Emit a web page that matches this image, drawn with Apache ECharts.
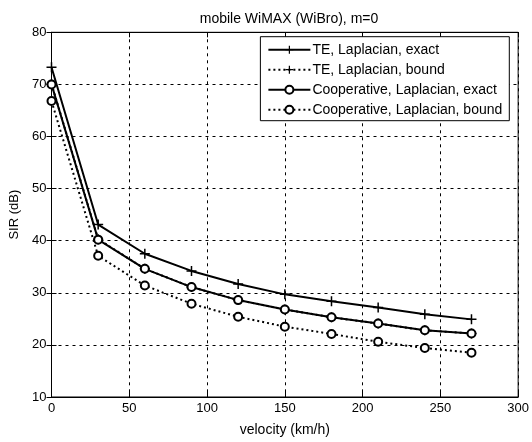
<!DOCTYPE html>
<html><head><meta charset="utf-8">
<script src="https://cdn.jsdelivr.net/npm/echarts@6/dist/echarts.min.js"></script>
<style>html,body{margin:0;padding:0;background:#fff}#c{width:532px;height:442px}</style>
</head><body><div id="c"></div>
<script>
var velocity = [0, 30, 60, 90, 120, 150, 180, 210, 240, 270];
var teExact = [73.3, 43.1, 37.5, 34.2, 31.7, 29.7, 28.4, 27.2, 25.9, 24.9];
var teBound = [70.1, 40.3, 34.6, 31.1, 28.6, 26.8, 25.3, 24.1, 22.8, 22.2];
var coopExact = [70.0, 40.2, 34.6, 31.1, 28.6, 26.8, 25.3, 24.1, 22.8, 22.2];
var coopBound = [66.8, 37.1, 31.4, 27.9, 25.4, 23.5, 22.1, 20.6, 19.4, 18.5];
var seriesNames = ['TE, Laplacian, exact', 'TE, Laplacian, bound', 'Cooperative, Laplacian, exact', 'Cooperative, Laplacian, bound'];
var xTicks = [0, 50, 100, 150, 200, 250, 300];
var yTicks = [10, 20, 30, 40, 50, 60, 70, 80];

function pairs(ys){ return velocity.map(function(x,i){ return [x, ys[i]]; }); }
var FONT = 'Liberation Sans';
var plus = 'path://M4.25,0H5.75V10H4.25ZM0,4.25H10V5.75H0Z';
function mk(name, ys, dotted, sym){
  var isPlus = sym === 'plus';
  return {
    name: name, type: 'line', data: pairs(ys),
    symbol: isPlus ? plus : 'circle',
    symbolSize: isPlus ? 10 : 8,
    showAllSymbol: true,
    lineStyle: {color: '#000', width: 2, type: dotted ? [2, 3] : 'solid'},
    itemStyle: isPlus ? {color: '#000', borderWidth: 0} : {color: '#fff', borderColor: '#000', borderWidth: 2},
    emphasis: {disabled: true},
    z: dotted ? 2 : 3
  };
}
var chart = echarts.init(document.getElementById('c'));
chart.setOption({
  animation: false,
  backgroundColor: '#fff',
  textStyle: {fontFamily: FONT},
  title: {text: 'mobile WiMAX (WiBro), m=0', left: 284, top: 7, textAlign: 'center',
    textStyle: {fontFamily: FONT, fontSize: 14, fontWeight: 'normal', color: '#000'}},
  grid: {left: 51.5, right: 10, top: 32.3, bottom: 40.3, show: true, borderColor: '#000', borderWidth: 1},
  legend: {
    orient: 'vertical', right: 22.7, top: 36.7, itemWidth: 42, itemHeight: 10, itemGap: 6,
    padding: [6, 7, 4, 7], borderColor: '#000', borderWidth: 1, backgroundColor: '#fff',
    textStyle: {fontFamily: FONT, fontSize: 14, color: '#000', padding: [0,0,0,-3]},
    data: seriesNames
  },
  xAxis: [{
    type: 'value', min: 0, max: 300, interval: 50,
    name: 'velocity (km/h)', nameLocation: 'middle', nameGap: 26,
    nameTextStyle: {fontFamily: FONT, fontSize: 14, color: '#000'},
    axisLine: {show: true, lineStyle: {color: '#000'}},
    axisTick: {show: true, inside: true, length: 5, lineStyle: {color: '#000'}},
    axisLabel: {fontFamily: FONT, fontSize: 13, color: '#000', margin: 5,
      formatter: function(v){ return xTicks.indexOf(v) >= 0 ? String(v) : ''; }},
    splitLine: {show: true, lineStyle: {color: '#000', type: [3, 4], width: 1}}
  }, {
    type: 'value', min: 0, max: 300, interval: 50, position: 'top',
    axisLine: {show: true, lineStyle: {color: '#000'}},
    axisTick: {show: true, inside: true, length: 5, lineStyle: {color: '#000'}},
    axisLabel: {show: false}, splitLine: {show: false}
  }],
  yAxis: [{
    type: 'value', min: 10, max: 80, interval: 10,
    name: 'SIR (dB)', nameLocation: 'middle', nameGap: 30, nameRotate: 90,
    nameTextStyle: {fontFamily: FONT, fontSize: 13, color: '#000'},
    axisLine: {show: true, lineStyle: {color: '#000'}},
    axisTick: {show: true, inside: true, length: 5, lineStyle: {color: '#000'}},
    axisLabel: {fontFamily: FONT, fontSize: 13, color: '#000', margin: 5,
      formatter: function(v){ return yTicks.indexOf(v) >= 0 ? String(v) : ''; }},
    splitLine: {show: true, lineStyle: {color: '#000', type: [3, 4], width: 1}}
  }, {
    type: 'value', min: 10, max: 80, interval: 10, position: 'right',
    axisLine: {show: true, lineStyle: {color: '#000'}},
    axisTick: {show: true, inside: true, length: 5, lineStyle: {color: '#000'}},
    axisLabel: {show: false}, splitLine: {show: false}
  }],
  series: [
    mk(seriesNames[0], teExact, false, 'plus'),
    mk(seriesNames[1], teBound, true, 'plus'),
    mk(seriesNames[2], coopExact, false, 'circle'),
    mk(seriesNames[3], coopBound, true, 'circle')
  ]
});
</script></body></html>
